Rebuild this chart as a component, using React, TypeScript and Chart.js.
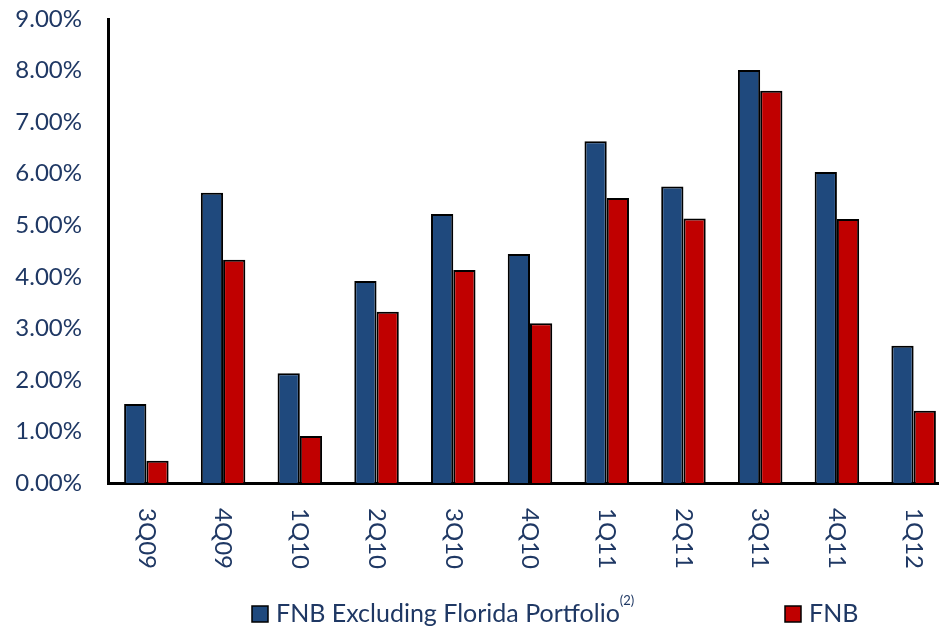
import React, { useEffect, useRef } from "react";
import { Chart, registerables } from "chart.js";

Chart.register(...registerables);

const categories = ["3Q09", "4Q09", "1Q10", "2Q10", "3Q10", "4Q10", "1Q11", "2Q11", "3Q11", "4Q11", "1Q12"];
const fnbExFlorida = [1.53, 5.63, 2.13, 3.92, 5.22, 4.44, 6.63, 5.75, 8.01, 6.03, 2.66];
const fnb = [0.43, 4.33, 0.91, 3.32, 4.13, 3.1, 5.53, 5.13, 7.61, 5.12, 1.4];
const seriesNames = ["FNB Excluding Florida Portfolio", "FNB"];
const legendSuperscript = "(2)";

const BLUE = "#1F497D";
const RED = "#C00000";
const TEXT = "#1F3864";
const FONT = "Lato, 'Open Sans', sans-serif";

const labelsAndLegend = {
  id: "labelsAndLegend",
  afterDraw(chart: any) {
    const ctx = chart.ctx;
    const xs = chart.scales.x;
    const area = chart.chartArea;
    ctx.save();
    ctx.fillStyle = TEXT;
    ctx.font = `24px ${FONT}`;
    categories.forEach((c, i) => {
      const x = xs.getPixelForValue(i);
      ctx.save();
      ctx.translate(x, area.bottom + 25);
      ctx.rotate(Math.PI / 2);
      ctx.textAlign = "left";
      ctx.textBaseline = "middle";
      ctx.fillText(c, 0, 0);
      ctx.restore();
    });
    // legend
    const ly = 614;
    const items = [
      { x: 252, color: BLUE, text: seriesNames[0], sup: legendSuperscript },
      { x: 785, color: RED, text: seriesNames[1], sup: "" },
    ];
    items.forEach((it) => {
      ctx.fillStyle = it.color;
      ctx.fillRect(it.x, ly - 8, 16, 16);
      ctx.strokeStyle = "#000";
      ctx.lineWidth = 1.5;
      ctx.strokeRect(it.x, ly - 8, 16, 16);
      ctx.fillStyle = TEXT;
      ctx.font = `25px ${FONT}`;
      ctx.textAlign = "left";
      ctx.textBaseline = "middle";
      ctx.fillText(it.text, it.x + 24, ly);
      if (it.sup) {
        const w = ctx.measureText(it.text).width;
        ctx.font = `13px ${FONT}`;
        ctx.fillText(it.sup, it.x + 24 + w, ly - 13);
      }
    });
    ctx.restore();
  },
};

export default function App() {
  const ref = useRef<HTMLCanvasElement | null>(null);
  useEffect(() => {
    if (!ref.current) return;
    const chart = new Chart(ref.current, {
      type: "bar",
      data: {
        labels: categories,
        datasets: [
          {
            label: seriesNames[0],
            data: fnbExFlorida,
            backgroundColor: BLUE,
            borderColor: "#000",
            borderWidth: 2,
            categoryPercentage: 0.58,
            barPercentage: 1,
          },
          {
            label: seriesNames[1],
            data: fnb,
            backgroundColor: RED,
            borderColor: "#000",
            borderWidth: 2,
            categoryPercentage: 0.58,
            barPercentage: 1,
          },
        ],
      },
      options: {
        responsive: false,
        animation: false,
        layout: { padding: { top: 19, left: 0, right: 0, bottom: 0 } },
        plugins: { legend: { display: false }, tooltip: { enabled: false } },
        scales: {
          x: {
            grid: { display: false, drawTicks: false },
            border: { display: true, color: "#000", width: 3 },
            ticks: { display: false },
            afterFit: (s: any) => {
              s.height = 146;
              s.paddingLeft = 0;
              s.paddingRight = 0;
            },
          },
          y: {
            min: 0,
            max: 9,
            grid: { display: false, drawTicks: false },
            border: { display: true, color: "#000", width: 3 },
            ticks: {
              stepSize: 1,
              padding: 26,
              color: TEXT,
              font: { family: FONT, size: 24 },
              callback: (v: any) => Number(v).toFixed(2) + "%",
            },
            afterFit: (s: any) => {
              s.width = 108;
              s.paddingTop = 0;
              s.paddingBottom = 0;
            },
          },
        },
      },
      plugins: [labelsAndLegend],
    });
    return () => chart.destroy();
  }, []);
  return (
    <div style={{ position: "fixed", left: 0, top: 0, width: 939, height: 629, overflow: "hidden", background: "#fff" }}>
      <canvas ref={ref} width={952} height={629} style={{ width: 952, height: 629, display: "block" }} />
    </div>
  );
}
